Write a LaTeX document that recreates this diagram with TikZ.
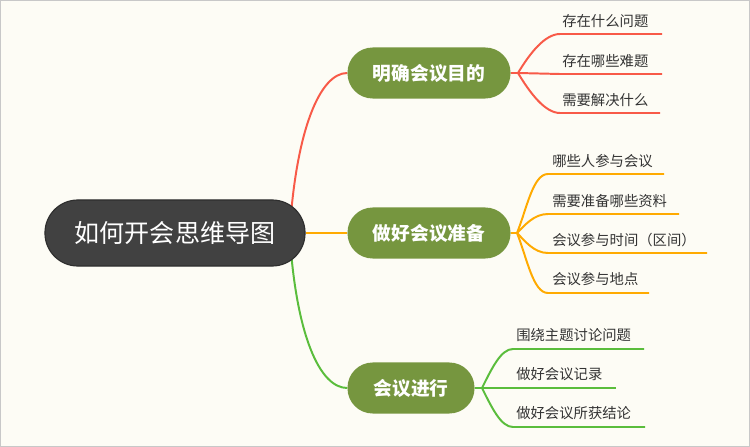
\documentclass[tikz,border=0pt]{standalone}
\usepackage{fontspec}
\newfontfamily\cjk{Noto Sans CJK SC}
\usetikzlibrary{backgrounds}

\definecolor{pagebg}{HTML}{FDFCF5}
\definecolor{pageframe}{HTML}{C8C8C8}
\definecolor{rootfill}{HTML}{414141}
\definecolor{rootedge}{HTML}{2E2E2E}
\definecolor{topicfill}{HTML}{76963F}
\definecolor{leaftext}{HTML}{333333}
\definecolor{mapred}{HTML}{F85A48}
\definecolor{maporange}{HTML}{FFAA00}
\definecolor{mapgreen}{HTML}{5ABD3C}

\tikzset{
  rootbox/.style={fill=rootfill, draw=rootedge, line width=0.8pt, text=white,
    font=\cjk\fontsize{17.8}{20}\selectfont, minimum width=6.5cm,
    minimum height=1.65cm, rounded corners=0.82cm},
  topicbox/.style={fill=topicfill, text=white,
    font=\cjk\bfseries\fontsize{13.3}{16}\selectfont,
    minimum height=1.275cm, rounded corners=0.63cm},
  leaf/.style={anchor=west, inner sep=0pt, text=leaftext,
    font=\cjk\fontsize{10.2}{12}\selectfont},
  redline/.style={draw=mapred, line width=1.4pt},
  orangeline/.style={draw=maporange, line width=1.4pt},
  greenline/.style={draw=mapgreen, line width=1.4pt}
}

\begin{document}
\begin{tikzpicture}[x=0.025cm, y=-0.025cm]
        % Page
        \useasboundingbox (0,0) rectangle (750,447);

        % Central topic
        \node[rootbox] (root) at (175,233) {如何开会思维导图};

        % Main topics
        \node[topicbox, minimum width=4.075cm] (b1) at (429,73) {明确会议目的};
        \node[topicbox, minimum width=4.075cm] (b2) at (429,233) {做好会议准备};
        \node[topicbox, minimum width=3.175cm] (b3) at (411,388) {会议进行};

        % Forks
        \coordinate (f1) at (518,73);
        \coordinate (f2) at (517,233);
        \coordinate (f3) at (482,388);

        % Leaves of topic 1
        \node[leaf] (l11) at (562,21) {存在什么问题};
        \node[leaf] (l12) at (562,61) {存在哪些难题};
        \node[leaf] (l13) at (562,100) {需要解决什么};
        \coordinate (u11) at (560,34);  \coordinate (v11) at (662,34);
        \coordinate (u12) at (560,74);  \coordinate (v12) at (662,74);
        \coordinate (u13) at (560,113); \coordinate (v13) at (660,113);

        % Leaves of topic 2
        \node[leaf] (l21) at (552,161) {哪些人参与会议};
        \node[leaf] (l22) at (552,201) {需要准备哪些资料};
        \node[leaf] (l23) at (552,240) {会议参与时间（区间）};
        \node[leaf] (l24) at (552,279) {会议参与地点};
        \coordinate (u21) at (548,174); \coordinate (v21) at (664,174);
        \coordinate (u22) at (548,214); \coordinate (v22) at (679,214);
        \coordinate (u23) at (548,253); \coordinate (v23) at (707,253);
        \coordinate (u24) at (548,293); \coordinate (v24) at (649,293);

        % Leaves of topic 3
        \node[leaf] (l31) at (516,335) {围绕主题讨论问题};
        \node[leaf] (l32) at (516,374) {做好会议记录};
        \node[leaf] (l33) at (516,413) {做好会议所获结论};
        \coordinate (u31) at (513,349); \coordinate (v31) at (644,349);
        \coordinate (u32) at (513,388); \coordinate (v32) at (616,388);
        \coordinate (u33) at (513,427); \coordinate (v33) at (645,427);

        \begin{scope}[on background layer]
        \fill[pagebg] (0,0) rectangle (750,447);

        % Root to topics
        \draw[redline] ([xshift=-0.4cm]root.east) .. controls (296,130) and (320,73) .. (b1.west);
        \draw[orangeline] (root.east) -- (b2.west);
        \draw[greenline] ([xshift=-0.4cm]root.east) .. controls (296,336) and (320,388) .. (b3.west);

        % Topic 1 to leaves
        \draw[redline] (b1.east) -- (f1) .. controls +(12,-20) and +(-15,0) .. (u11) -- (v11);
        \draw[redline] (f1) -- (u12) -- (v12);
        \draw[redline] (f1) .. controls +(12,20) and +(-15,0) .. (u13) -- (v13);

        % Topic 2 to leaves
        \draw[orangeline] (b2.east) -- (f2) .. controls +(10,-25) and +(-15,0) .. (u21) -- (v21);
        \draw[orangeline] (f2) .. controls +(8,-8) and +(-14,0) .. (u22) -- (v22);
        \draw[orangeline] (f2) .. controls +(8,8) and +(-14,0) .. (u23) -- (v23);
        \draw[orangeline] (f2) .. controls +(10,25) and +(-15,0) .. (u24) -- (v24);

        % Topic 3 to leaves
        \draw[greenline] (b3.east) -- (f3) .. controls +(10,-20) and +(-12,0) .. (u31) -- (v31);
        \draw[greenline] (f3) -- (u32) -- (v32);
        \draw[greenline] (f3) .. controls +(10,20) and +(-12,0) .. (u33) -- (v33);
        \end{scope}

        % Frame
        \draw[pageframe, line width=0.05cm] (0,0) rectangle (750,447);
\end{tikzpicture}
\end{document}
